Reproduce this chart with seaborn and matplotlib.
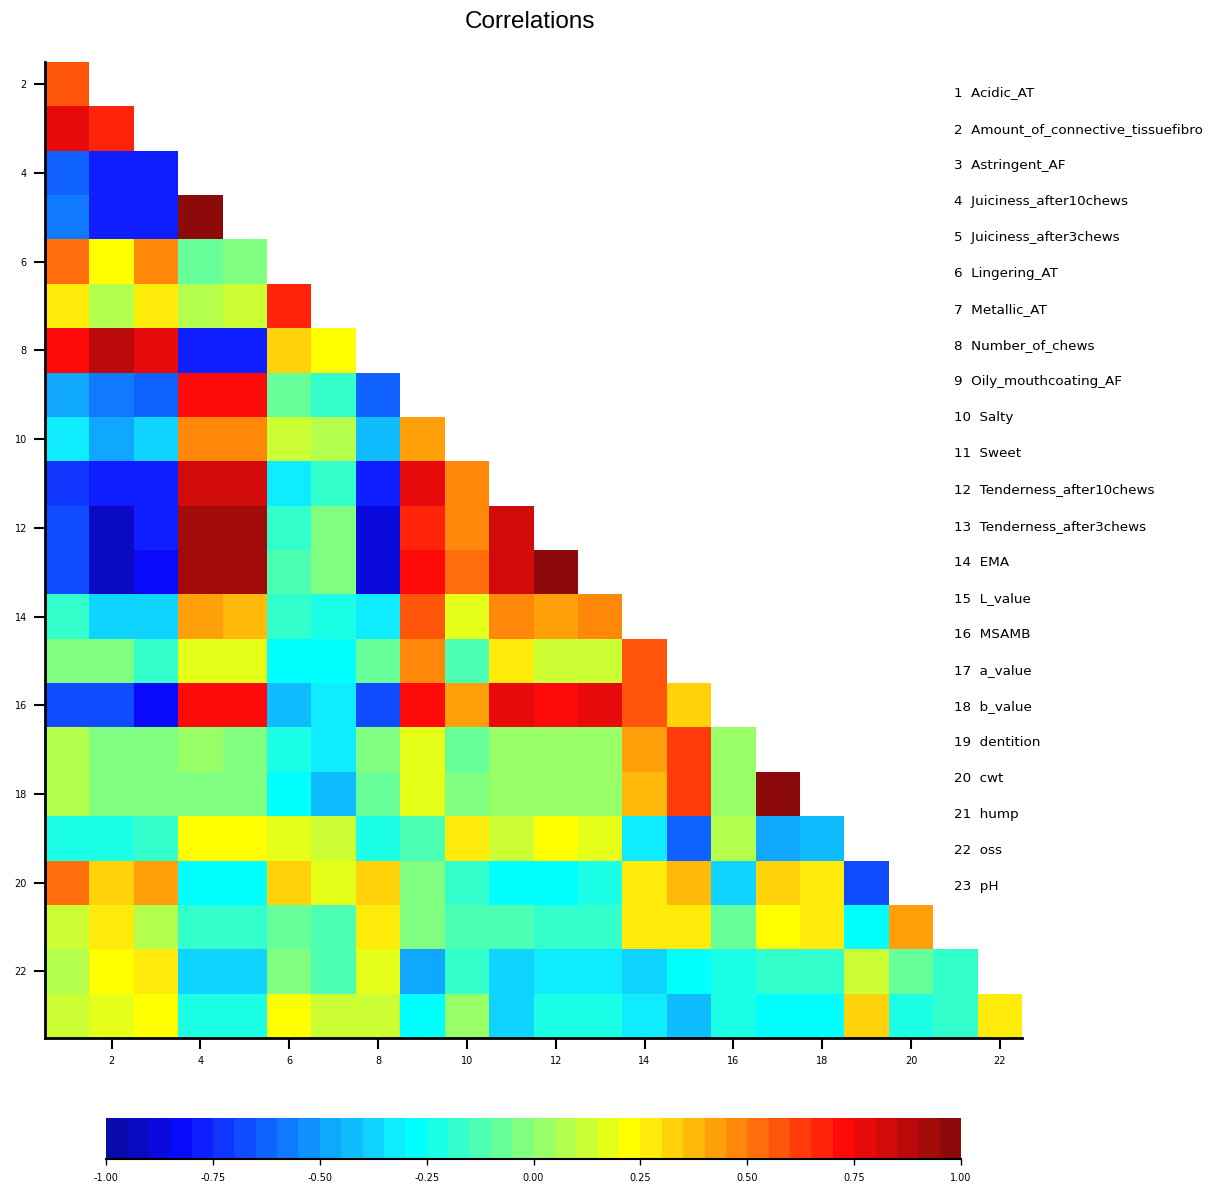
import numpy as np
import pandas as pd
import matplotlib
matplotlib.use("Agg")
import matplotlib.pyplot as plt
import seaborn as sns
from matplotlib.colors import ListedColormap

plt.rcParams["axes.unicode_minus"] = False

variables = ["Acidic_AT", "Amount_of_connective_tissuefibro", "Astringent_AF",
             "Juiciness_after10chews", "Juiciness_after3chews", "Lingering_AT",
             "Metallic_AT", "Number_of_chews", "Oily_mouthcoating_AF", "Salty",
             "Sweet", "Tenderness_after10chews", "Tenderness_after3chews", "EMA",
             "L_value", "MSAMB", "a_value", "b_value", "dentition", "cwt", "hump",
             "oss", "pH"]

# lower-triangle correlations: row variable r vs columns 1..r-1
r02 = [0.57]
r03 = [0.77, 0.67]
r04 = [-0.63, -0.78, -0.78]
r05 = [-0.58, -0.78, -0.78, 0.97]
r06 = [0.52, 0.22, 0.47, -0.08, -0.03]
r07 = [0.27, 0.07, 0.27, 0.07, 0.12, 0.67]
r08 = [0.72, 0.87, 0.77, -0.78, -0.78, 0.32, 0.22]
r09 = [-0.48, -0.58, -0.63, 0.72, 0.72, -0.08, -0.18, -0.63]
r10 = [-0.33, -0.48, -0.38, 0.47, 0.47, 0.12, 0.07, -0.43, 0.42]
r11 = [-0.73, -0.78, -0.78, 0.82, 0.82, -0.33, -0.18, -0.78, 0.77, 0.47]
r12 = [-0.68, -0.93, -0.78, 0.92, 0.92, -0.18, -0.03, -0.88, 0.67, 0.47, 0.82]
r13 = [-0.68, -0.93, -0.83, 0.92, 0.92, -0.13, -0.03, -0.88, 0.72, 0.52, 0.82, 0.97]
r14 = [-0.18, -0.38, -0.38, 0.42, 0.37, -0.18, -0.23, -0.33, 0.57, 0.17, 0.47, 0.42, 0.47]
r15 = [-0.03, -0.03, -0.18, 0.17, 0.17, -0.28, -0.28, -0.08, 0.47, -0.13, 0.27, 0.12, 0.12, 0.57]
r16 = [-0.68, -0.68, -0.83, 0.72, 0.72, -0.43, -0.33, -0.68, 0.72, 0.42, 0.77, 0.72, 0.77, 0.57, 0.32]
r17 = [0.07, -0.03, -0.03, 0.02, -0.03, -0.23, -0.33, -0.03, 0.17, -0.08, 0.02, 0.02, 0.02, 0.42, 0.62, 0.02]
r18 = [0.07, -0.03, -0.03, -0.03, -0.03, -0.28, -0.43, -0.08, 0.17, -0.03, 0.02, 0.02, 0.02, 0.37, 0.62, 0.02, 0.97]
r19 = [-0.23, -0.23, -0.18, 0.22, 0.22, 0.17, 0.12, -0.23, -0.13, 0.27, 0.12, 0.22, 0.17, -0.33, -0.63, 0.07, -0.48, -0.43]
r20 = [0.52, 0.32, 0.42, -0.28, -0.28, 0.32, 0.17, 0.32, -0.03, -0.18, -0.28, -0.28, -0.23, 0.27, 0.37, -0.38, 0.32, 0.27, -0.68]
r21 = [0.12, 0.27, 0.07, -0.18, -0.18, -0.08, -0.13, 0.27, -0.03, -0.13, -0.13, -0.18, -0.18, 0.27, 0.27, -0.08, 0.22, 0.27, -0.28, 0.42]
r22 = [0.07, 0.22, 0.27, -0.38, -0.38, -0.03, -0.13, 0.17, -0.48, -0.18, -0.38, -0.33, -0.33, -0.38, -0.28, -0.23, -0.18, -0.18, 0.12, -0.08, -0.18]
r23 = [0.12, 0.17, 0.22, -0.23, -0.23, 0.22, 0.12, 0.12, -0.28, 0.02, -0.38, -0.23, -0.23, -0.33, -0.43, -0.23, -0.28, -0.28, 0.32, -0.23, -0.18, 0.27]

rows = [r02, r03, r04, r05, r06, r07, r08, r09, r10, r11, r12, r13, r14, r15,
        r16, r17, r18, r19, r20, r21, r22, r23]
row_vars = list(range(2, 24))
col_vars = list(range(1, 23))

M = np.full((len(row_vars), len(col_vars)), np.nan)
for i, vals in enumerate(rows):
    M[i, :len(vals)] = vals
df = pd.DataFrame(M, index=row_vars, columns=col_vars)

# discrete 40-level jet-like colormap
anchor_lv = [0, 3, 4, 13, 14, 24, 25, 33, 34, 39]
anchor_rgb = np.array([(10, 10, 170), (10, 10, 250), (15, 30, 255), (15, 235, 255),
                       (0, 255, 255), (255, 255, 0), (255, 235, 10), (255, 35, 10),
                       (255, 10, 10), (140, 10, 10)]) / 255.0
lv = np.arange(40)
cols = np.stack([np.interp(lv, anchor_lv, anchor_rgb[:, j]) for j in range(3)], axis=1)
cmap = ListedColormap(cols)

W, H = 1228, 1186
fig = plt.figure(figsize=(W / 100, H / 100), dpi=100)
ax = fig.add_axes([45 / W, 1 - 1038 / H, (1022 - 45) / W, (1038 - 62) / H])
cax = fig.add_axes([106 / W, 1 - 1159 / H, (961 - 106) / W, 41 / H])

sns.heatmap(df, ax=ax, cmap=cmap, vmin=-1, vmax=1, cbar_ax=cax,
            cbar_kws={"orientation": "horizontal", "ticks": np.linspace(-1, 1, 9),
                      "format": "%.2f"},
            xticklabels=False, yticklabels=False, linewidths=0)

xt = list(range(2, 23, 2))
ax.set_xticks([c - 0.5 for c in xt])
ax.set_xticklabels([str(c) for c in xt])
yt = list(range(2, 23, 2))
ax.set_yticks([v - 1.5 for v in yt])
ax.set_yticklabels([str(v) for v in yt], rotation=0)
ax.set_xlabel("")
ax.set_ylabel("")
for s in ["left", "bottom"]:
    ax.spines[s].set_visible(True)
    ax.spines[s].set_linewidth(2)
    ax.spines[s].set_color("black")
ax.tick_params(axis="both", length=8, width=1.5, labelsize=7, direction="out", pad=5)

cbar = ax.collections[0].colorbar
cbar.outline.set_visible(False)
cax.tick_params(length=4, width=1, labelsize=7, pad=6)
cax.plot([0, 1], [0, 0], transform=cax.transAxes, color="black", lw=1.5, clip_on=False)

fig.text(530 / W, 1 - 22 / H, "Correlations", ha="center", va="center", fontsize=17.5,
         family=["Liberation Sans", "DejaVu Sans"])

for i, name in enumerate(variables):
    fig.text(954 / W, 1 - (93 + i * 36.09) / H, f"{i + 1}  {name}", ha="left",
             va="center", fontsize=9.7)

fig.savefig("out.png", dpi=100)
